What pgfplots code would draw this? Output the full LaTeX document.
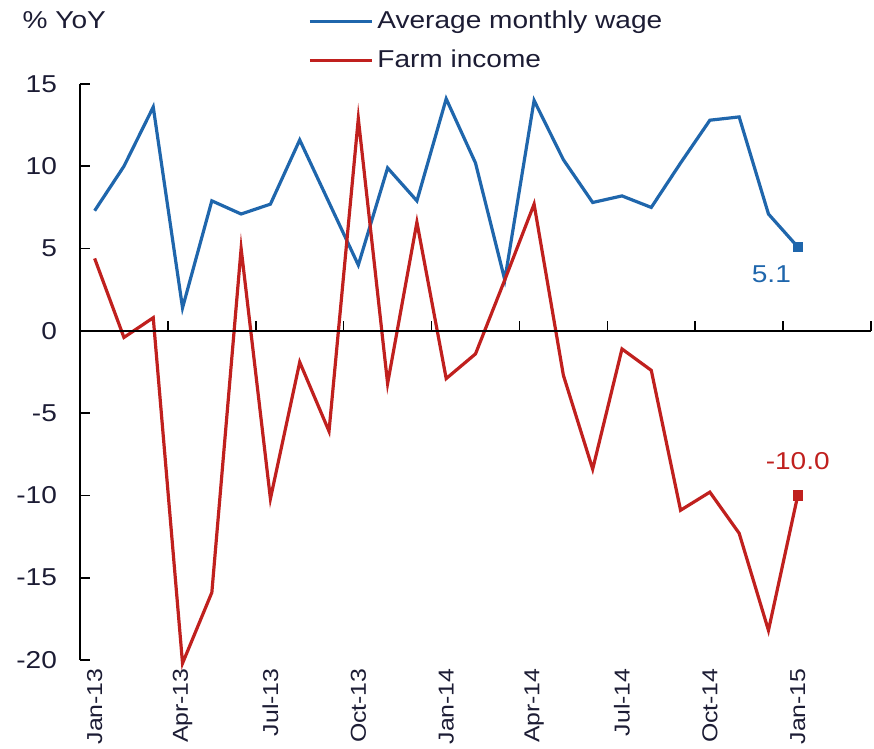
\documentclass[border=0pt]{standalone}
\usepackage{pgfplots}
\pgfplotsset{compat=1.18}
\usepackage{fontspec}
\setmainfont[FakeStretch=1.15]{Liberation Sans}
\definecolor{wageblue}{RGB}{31,102,172}
\definecolor{farmred}{RGB}{192,32,30}
\definecolor{tickink}{RGB}{28,28,52}
\newcommand\chartfont{\fontsize{12.2}{14.5}\selectfont}

\begin{document}
\begin{tikzpicture}
\begin{axis}[
    scale only axis,
    width=395.5pt,
    height=288pt,
    xmin=-0.5, xmax=26.5,
    ymin=-20, ymax=15,
    clip=false,
    axis lines*=left,
    x axis line style={draw=none},
    x tick style={draw=none},
    xtick={0,3,...,24},
    xticklabels={Jan-13,Apr-13,Jul-13,Oct-13,Jan-14,Apr-14,Jul-14,Oct-14,Jan-15},
    xticklabel style={rotate=90, anchor=east, inner sep=0pt, xshift=-4pt,
        font=\fontsize{10.8}{12.5}\selectfont, text=tickink},
    ytick={-20,-15,...,15},
    yticklabels={-20,-15,-10,-5,0,5,10,15},
    yticklabel style={font=\chartfont, text=tickink, xshift=-8pt},
    y axis line style={line width=0.8pt, black},
    y tick style={line width=0.8pt, black},
    tick align=inside,
    major tick length=5pt,
    legend cell align=left,
    legend style={at={(rel axis cs:0.288,1.134)}, anchor=north west, draw=none, fill=none,
        font=\chartfont, text=tickink, inner sep=0pt, row sep=5pt,
        /tikz/every even column/.style={column sep=0pt}},
    legend image code/.code={\draw[#1] (0pt,0pt) -- (31pt,0pt);},
]
\addplot[wageblue, line width=1.6pt, mark=square*, mark indices={25}, mark size=1.8pt] coordinates {
    (0,7.3) (1,10.0) (2,13.6) (3,1.4) (4,7.9) (5,7.1) (6,7.7) (7,11.6) (8,7.8)
    (9,4.0) (10,9.9) (11,7.9) (12,14.1) (13,10.2) (14,3.1) (15,14.0) (16,10.4)
    (17,7.8) (18,8.2) (19,7.5) (20,10.2) (21,12.8) (22,13.0) (23,7.1) (24,5.1)
};
\addlegendentry{Average monthly wage}
\addplot[farmred, line width=1.6pt, mark=square*, mark indices={25}, mark size=1.8pt] coordinates {
    (0,4.4) (1,-0.4) (2,0.8) (3,-20.2) (4,-15.9) (5,5.0) (6,-10.2) (7,-1.9) (8,-6.1)
    (9,12.9) (10,-3.2) (11,6.6) (12,-2.9) (13,-1.4) (14,3.1) (15,7.7) (16,-2.7)
    (17,-8.4) (18,-1.1) (19,-2.4) (20,-10.9) (21,-9.8) (22,-12.3) (23,-18.2) (24,-10.0)
};
\addlegendentry{Farm income}
% zero line with its tick marks between quarters
\draw[black, line width=0.8pt] (axis cs:-0.5,0) -- (axis cs:26.5,0);
\pgfplotsinvokeforeach{2.5,5.5,8.5,11.5,14.5,17.5,20.5,23.5,26.5}{
    \draw[black, line width=0.8pt] (axis cs:#1,0) -- ([yshift=5pt]axis cs:#1,0);
}
\node[wageblue, font=\chartfont] at (axis cs:23.1,3.45) {5.1};
\node[farmred, font=\chartfont] at (axis cs:24,-7.9) {-10.0};
\node[anchor=west, text=tickink, font=\chartfont, inner sep=0pt] at (rel axis cs:-0.073,1.111) {\% YoY};
\end{axis}
\pgfresetboundingbox
\path (-40pt,-44.5pt) rectangle (397pt,330pt);
\end{tikzpicture}
\end{document}
